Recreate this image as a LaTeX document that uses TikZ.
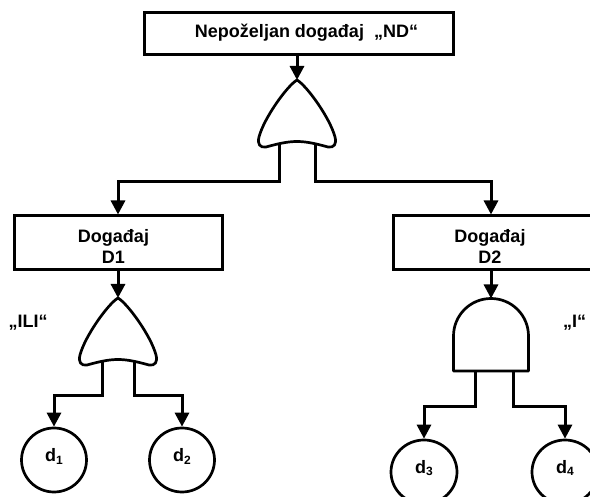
\documentclass[tikz,border=0pt]{standalone}
\usepackage{fontspec}
\setmainfont{Liberation Sans}
\usetikzlibrary{arrows.meta,shapes.geometric}
\newcommand\orgateshape[1]{%
  \begin{scope}[shift={#1}]
    \path[gatestyle] (0,0) .. controls (-10,6) and (-33,38) .. (-38,57)
      .. controls (-40,64) and (-37,68) .. (-31,67)
      .. controls (-20,64) and (-10,61.5) .. (0,61.5)
      .. controls (10,61.5) and (20,64) .. (31,67)
      .. controls (37,68) and (40,64) .. (38,57)
      .. controls (33,38) and (10,6) .. (0,0) -- cycle;
  \end{scope}}
\newcommand\andgateshape[1]{%
  \begin{scope}[shift={#1}]
    \path[gatestyle] (-37.5,72.5) -- (-37.5,37.5)
      .. controls (-37.5,16.8) and (-20.7,0) .. (0,0)
      .. controls (20.7,0) and (37.5,16.8) .. (37.5,37.5)
      -- (37.5,72.5) -- cycle;
  \end{scope}}
\begin{document}
\begin{tikzpicture}[x=1pt,y=-1pt,
  txt/.style={font=\bfseries\fontsize{18}{20.5}\selectfont,inner sep=0pt},
  box/.style={draw,line width=3pt,rectangle,inner sep=0pt},
  ev/.style={draw,ellipse,line width=2.7pt,minimum width=65pt,minimum height=64pt,
    inner sep=0pt,font=\bfseries\fontsize{18}{19}\selectfont,text height=13pt,text depth=9pt},
  gatestyle/.style={draw,line width=2.7pt,line join=round,fill=white},
  wire/.style={line width=3pt},
  arr/.style={wire,-{Triangle[length=14pt,width=14pt]}}]
\useasboundingbox (0,0) rectangle (590,497);

% boxes
\node[box,minimum width=309pt,minimum height=42pt] (ND) at (298.5,34) {};
\node[txt,anchor=base] (NDt) at (306.5,38) {Nepoželjan događaj~~„ND“};
\node[box,minimum width=208pt,minimum height=54pt] (D1) at (118,243) {};
\node[txt,align=center] (D1t) at (113.5,246.5) {Događaj\\D1};
\node[box,minimum width=210pt,minimum height=54pt] (D2) at (498,243) {};
\node[txt,align=center] (D2t) at (490,246.5) {Događaj\\D2};

% gate reference points
\coordinate (g0) at (297,80);
\coordinate (g0l) at (279,140);
\coordinate (g0r) at (315,140);
\coordinate (b0l) at (279,182);
\coordinate (b0r) at (315,182);
\coordinate (g1) at (118,298);
\coordinate (g1l) at (102,358);
\coordinate (g1r) at (134,358);
\coordinate (b1l) at (102,396);
\coordinate (b1r) at (134,396);
\coordinate (g2) at (491,298.5);
\coordinate (g2l) at (475,368);
\coordinate (g2r) at (513,368);
\coordinate (b2l) at (475,407);
\coordinate (b2r) at (513,407);

% events
\node[ev] (d1) at (54,460) {d\raisebox{-2pt}{\fontsize{12}{12}\selectfont 1}};
\node[ev] (d2) at (182,460) {d\raisebox{-2pt}{\fontsize{12}{12}\selectfont 2}};
\node[ev,minimum width=66pt] (d3) at (424,472) {d\raisebox{-2pt}{\fontsize{12}{12}\selectfont 3}};
\node[ev,minimum width=66pt] (d4) at (565,472) {d\raisebox{-2pt}{\fontsize{12}{12}\selectfont 4}};

% gate labels
\node[txt,anchor=base] (ili) at (28,328) {„ILI“};
\node[txt,anchor=base] (i) at (574.5,328) {„I“};

% connectors
\draw[arr] (ND.south -| g0) -- (g0);
\draw[arr] (g0l) -- (b0l) -| (D1.north);
\draw[arr] (g0r) -- (b0r) -- (b0r -| g2) -- (g2 |- D2.north);
\draw[arr] (D1.south) -- (g1);
\draw[arr] (g1l) -- (b1l) -| (d1.north);
\draw[arr] (g1r) -- (b1r) -| (d2.north);
\draw[arr] (g2 |- D2.south) -- (g2);
\draw[arr] (g2l) -- (b2l) -| (d3.north);
\draw[arr] (g2r) -- (b2r) -| (d4.north);

% gates
\orgateshape{(g0)}
\orgateshape{(g1)}
\andgateshape{(g2)}
\end{tikzpicture}
\end{document}
